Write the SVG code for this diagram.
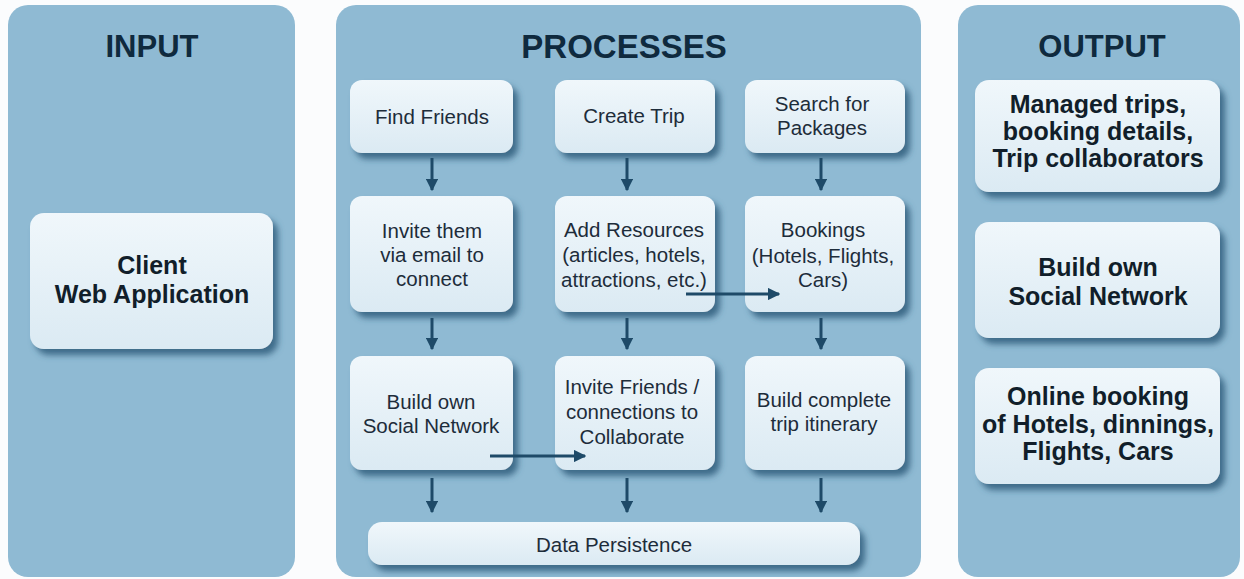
<svg xmlns="http://www.w3.org/2000/svg" width="1244" height="579" viewBox="0 0 1244 579">
<defs>
<linearGradient id="boxg" x1="0" y1="0" x2="0" y2="1">
<stop offset="0" stop-color="#f0f7fb"/>
<stop offset="1" stop-color="#dbeaf3"/>
</linearGradient>
<filter id="sh" x="-10%" y="-10%" width="130%" height="140%">
<feGaussianBlur in="SourceAlpha" stdDeviation="3"/>
<feOffset dx="5" dy="6" result="b"/>
<feFlood flood-color="#2f5d7c" flood-opacity="0.85"/>
<feComposite in2="b" operator="in"/>
<feMerge><feMergeNode/><feMergeNode in="SourceGraphic"/></feMerge>
</filter>
<marker id="ah" viewBox="0 0 10 10" refX="9" refY="5" markerWidth="4.2" markerHeight="4.2" markerUnits="strokeWidth" orient="auto">
<path d="M0,0 L10,5 L0,10 z" fill="#1e4a68"/>
</marker>
</defs>
<style>
.panel{fill:#8fbad3}
.title{font-family:"Liberation Sans",Arial,sans-serif;font-weight:bold;font-size:31px;fill:#0f2a3e;text-anchor:middle}
.box{fill:url(#boxg);filter:url(#sh)}
.pt{font-family:"Liberation Sans",Arial,sans-serif;font-size:20.5px;fill:#1d2c3a;text-anchor:middle}
.bt{font-family:"Liberation Sans",Arial,sans-serif;font-weight:bold;font-size:25px;fill:#111e2a;text-anchor:middle}
.ar{stroke:#1e4a68;stroke-width:3;fill:none;marker-end:url(#ah)}
</style>
<rect width="1244" height="579" fill="#fbfcfd"/>

<g id="panel-input">
<rect class="panel" x="8" y="5" width="287" height="572" rx="20"/>
<text class="title" x="152" y="57">INPUT</text>
</g>
<g id="panel-processes">
<rect class="panel" x="336" y="5" width="585" height="572" rx="20"/>
<text class="title" x="624" y="58" style="font-size:33px">PROCESSES</text>
</g>
<g id="panel-output">
<rect class="panel" x="958" y="5" width="282" height="572" rx="20"/>
<text class="title" x="1102" y="57">OUTPUT</text>
</g>

<g id="client">
<rect class="box" x="30" y="213" width="243" height="136" rx="14"/>
<text class="bt" x="152" y="274">Client</text>
<text class="bt" x="152" y="303">Web Application</text>
</g>

<g id="find-friends">
<rect class="box" x="350" y="80" width="163" height="73" rx="12"/>
<text class="pt" x="432" y="124">Find Friends</text>
</g>
<g id="create-trip">
<rect class="box" x="555" y="80" width="160" height="73" rx="12"/>
<text class="pt" x="634" y="123">Create Trip</text>
</g>
<g id="search-packages">
<rect class="box" x="745" y="80" width="160" height="73" rx="12"/>
<text class="pt" x="822" y="111">Search for</text>
<text class="pt" x="822" y="135">Packages</text>
</g>

<g id="invite-them">
<rect class="box" x="350" y="196" width="163" height="116" rx="12"/>
<text class="pt" x="432" y="238">Invite them</text>
<text class="pt" x="432" y="262">via email to</text>
<text class="pt" x="432" y="286">connect</text>
</g>
<g id="add-resources">
<rect class="box" x="555" y="196" width="160" height="116" rx="12"/>
<text class="pt" x="634" y="237">Add Resources</text>
<text class="pt" x="634" y="262">(articles, hotels,</text>
<text class="pt" x="634" y="287">attractions, etc.)</text>
</g>
<g id="bookings">
<rect class="box" x="745" y="196" width="160" height="116" rx="12"/>
<text class="pt" x="823" y="237">Bookings</text>
<text class="pt" x="823" y="263">(Hotels, Flights,</text>
<text class="pt" x="823" y="287">Cars)</text>
</g>

<g id="build-social">
<rect class="box" x="350" y="356" width="163" height="114" rx="12"/>
<text class="pt" x="431" y="409">Build own</text>
<text class="pt" x="431" y="433">Social Network</text>
</g>
<g id="invite-friends">
<rect class="box" x="555" y="356" width="160" height="114" rx="12"/>
<text class="pt" x="632" y="394">Invite Friends /</text>
<text class="pt" x="632" y="419">connections to</text>
<text class="pt" x="632" y="444">Collaborate</text>
</g>
<g id="build-itinerary">
<rect class="box" x="745" y="356" width="160" height="114" rx="12"/>
<text class="pt" x="824" y="407">Build complete</text>
<text class="pt" x="824" y="431">trip itinerary</text>
</g>

<g id="data-persistence">
<rect class="box" x="368" y="522" width="492" height="43" rx="14"/>
<text class="pt" x="614" y="552">Data Persistence</text>
</g>

<g id="out-managed">
<rect class="box" x="975" y="80" width="245" height="112" rx="14"/>
<text class="bt" x="1098" y="113">Managed trips,</text>
<text class="bt" x="1098" y="140">booking details,</text>
<text class="bt" x="1098" y="167">Trip collaborators</text>
</g>
<g id="out-social">
<rect class="box" x="975" y="222" width="245" height="116" rx="14"/>
<text class="bt" x="1098" y="276">Build own</text>
<text class="bt" x="1098" y="305">Social Network</text>
</g>
<g id="out-booking">
<rect class="box" x="975" y="368" width="245" height="116" rx="14"/>
<text class="bt" x="1098" y="405">Online booking</text>
<text class="bt" x="1098" y="433">of Hotels, dinnings,</text>
<text class="bt" x="1098" y="460">Flights, Cars</text>
</g>

<g id="connectors">
<line class="ar" x1="432" y1="158" x2="432" y2="190"/>
<line class="ar" x1="627" y1="158" x2="627" y2="190"/>
<line class="ar" x1="821" y1="158" x2="821" y2="190"/>
<line class="ar" x1="432" y1="318" x2="432" y2="349"/>
<line class="ar" x1="627" y1="318" x2="627" y2="349"/>
<line class="ar" x1="821" y1="318" x2="821" y2="349"/>
<line class="ar" x1="432" y1="478" x2="432" y2="512"/>
<line class="ar" x1="627" y1="478" x2="627" y2="512"/>
<line class="ar" x1="821" y1="478" x2="821" y2="512"/>
<line class="ar" x1="490" y1="456" x2="585" y2="456"/>
<line class="ar" x1="686" y1="294" x2="779" y2="294"/>
</g>
</svg>
